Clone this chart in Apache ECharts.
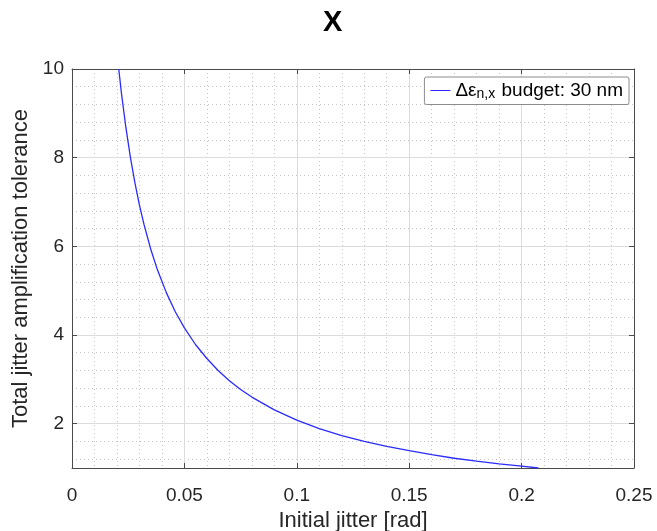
<!DOCTYPE html>
<html>
<head>
<meta charset="utf-8">
<script src="https://cdn.jsdelivr.net/npm/echarts@6/dist/echarts.min.js"></script>
<style>
  html, body { margin: 0; padding: 0; background: #fff; }
  #chart { width: 657px; height: 531px; }
</style>
</head>
<body>
<div id="chart"></div>
<script>
// values
const jitterX = [0.0208, 0.022, 0.024, 0.026, 0.028, 0.030, 0.032, 0.035, 0.038, 0.042,
  0.046, 0.050, 0.055, 0.060, 0.065, 0.070, 0.075, 0.080, 0.090, 0.100,
  0.110, 0.120, 0.130, 0.140, 0.150, 0.160, 0.170, 0.180, 0.190, 0.200, 0.2075];
const toleranceY = [10, 9.45, 8.67, 8.0, 7.43, 6.93, 6.5, 5.94, 5.47, 4.95,
  4.52, 4.16, 3.78, 3.47, 3.2, 2.97, 2.77, 2.6, 2.31, 2.08,
  1.89, 1.73, 1.6, 1.49, 1.39, 1.3, 1.22, 1.155, 1.095, 1.04, 1.0];
const xTicks = [0, 0.05, 0.1, 0.15, 0.2, 0.25];
const yTicks = [2, 4, 6, 8, 10];
const seriesName = 'budget';

const font = 'Liberation Sans, Arial, sans-serif';
const axisColor = '#262626';
const boxColor = '#4a4a4a';
const majorGrid = {
  show: true, showMinLine: false, showMaxLine: false,
  lineStyle: { color: '#dcdcdc', width: 1, type: 'solid' }
};
const minorGrid = {
  show: true, showMinLine: false, showMaxLine: false,
  lineStyle: { color: '#c4c4c4', width: 1, type: [1, 3] }
};
const boxLine = { show: true, onZero: false, lineStyle: { color: boxColor, width: 1 } };
const inTick = { show: true, inside: true, length: 5, lineStyle: { color: boxColor } };

const chart = echarts.init(document.getElementById('chart'));

chart.setOption({
  animation: false,
  backgroundColor: '#fff',
  title: {
    text: 'X',
    left: 318,
    top: 3,
    textStyle: { fontFamily: font, fontSize: 29, fontWeight: 'bold', color: '#000' }
  },
  grid: { left: 72, right: 23, top: 69, bottom: 63, outerBoundsMode: 'none', containLabel: false },
  legend: {
    right: 28,
    top: 77,
    padding: [4, 6, 3, 6],
    icon: 'rect',
    itemWidth: 20,
    itemHeight: 1,
    itemGap: 5,
    backgroundColor: '#fff',
    borderColor: '#8c8c8c',
    borderWidth: 1,
    borderRadius: 2,
    data: [seriesName],
    formatter: () => '{t|Δε}{s|n,x}{t| budget: 30 nm}',
    textStyle: {
      fontFamily: font,
      color: '#000',
      rich: {
        t: { fontFamily: font, fontSize: 19, color: '#000' },
        s: { fontFamily: font, fontSize: 14, color: '#000', padding: [8, 1, 0, 0] }
      }
    }
  },
  xAxis: [
    {
      type: 'value',
      min: xTicks[0],
      max: xTicks[xTicks.length - 1],
      interval: 0.05,
      name: 'Initial jitter [rad]',
      nameLocation: 'middle',
      nameGap: 28,
      nameTextStyle: { fontFamily: font, fontSize: 22, color: axisColor },
      axisLine: boxLine,
      axisTick: inTick,
      axisLabel: { fontFamily: font, fontSize: 19, color: axisColor, margin: 18 },
      splitLine: majorGrid,
      minorTick: { show: false, splitNumber: 5 },
      minorSplitLine: minorGrid,
      z: 3
    },
    {
      type: 'value',
      position: 'top',
      min: xTicks[0],
      max: xTicks[xTicks.length - 1],
      interval: 0.05,
      axisLine: boxLine,
      axisTick: inTick,
      axisLabel: { show: false },
      splitLine: { show: false },
      z: 4
    }
  ],
  yAxis: [
    {
      type: 'value',
      min: 1,
      max: yTicks[yTicks.length - 1],
      minInterval: 2,
      maxInterval: 2,
      name: 'Total jitter amplification tolerance',
      nameLocation: 'middle',
      nameGap: 39,
      nameTextStyle: { fontFamily: font, fontSize: 22, color: axisColor },
      axisLine: boxLine,
      axisTick: inTick,
      axisLabel: {
        fontFamily: font, fontSize: 19, color: axisColor, margin: 8,
        formatter: v => (yTicks.includes(v) ? String(v) : '')
      },
      splitLine: majorGrid,
      z: 4
    },
    {
      type: 'value',
      position: 'right',
      min: 1,
      max: 10,
      minInterval: 2,
      maxInterval: 2,
      axisLine: boxLine,
      axisTick: inTick,
      axisLabel: { show: false },
      splitLine: { show: false },
      z: 4
    },
    {
      // minor grid, every 0.4 (scaled by 2.5 so the step is 1)
      type: 'value',
      position: 'left',
      min: 2.5,
      max: 25,
      minInterval: 1,
      maxInterval: 1,
      axisLine: { show: false },
      axisTick: { show: false },
      axisLabel: { show: false },
      splitLine: minorGrid,
      z: 0
    }
  ],
  series: [
    {
      name: seriesName,
      type: 'line',
      xAxisIndex: 0,
      yAxisIndex: 0,
      symbol: 'none',
      smooth: false,
      lineStyle: { color: '#2b2bff', width: 1.3 },
      itemStyle: { color: '#2b2bff' },
      data: jitterX.map((x, i) => [x, toleranceY[i]]),
      z: 5
    }
  ]
});
</script>
</body>
</html>
